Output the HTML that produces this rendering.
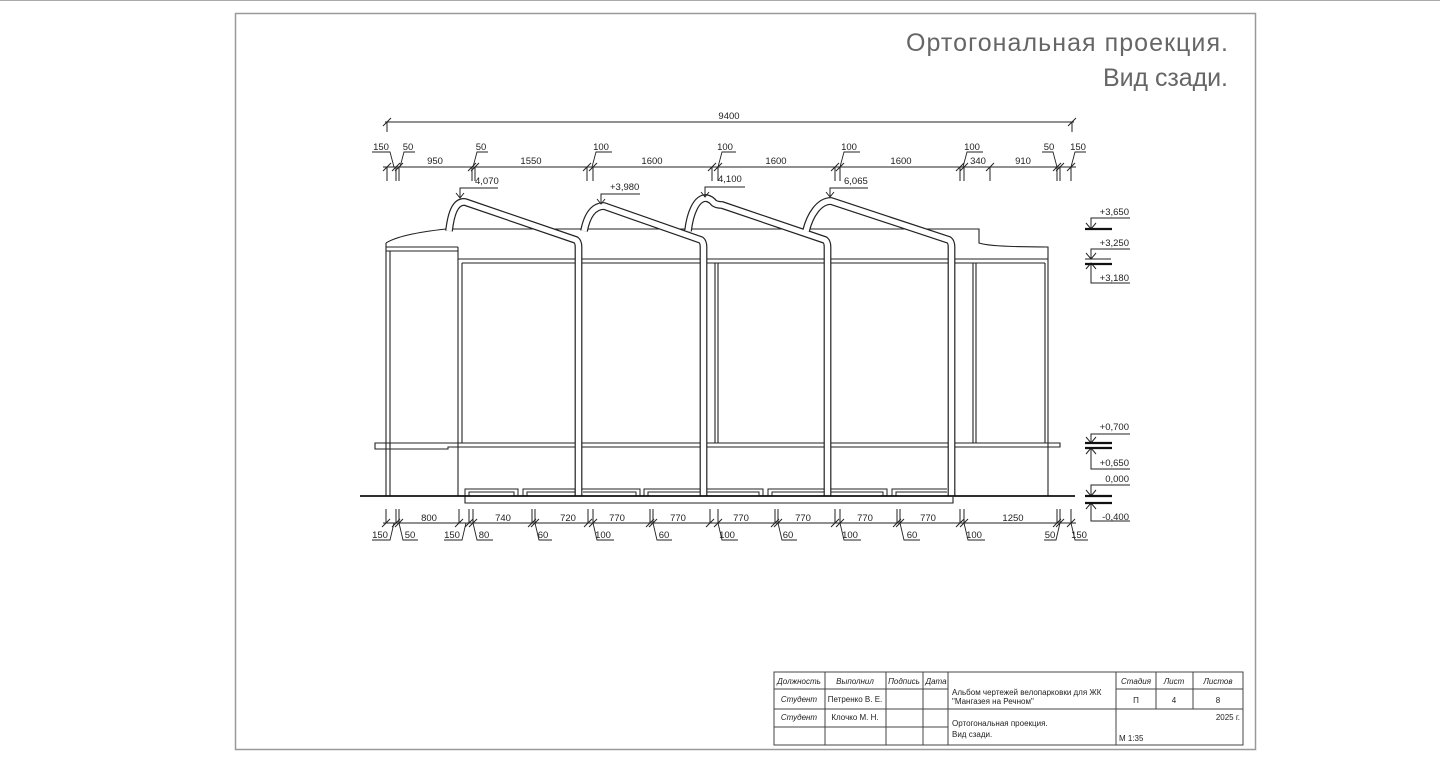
<!DOCTYPE html>
<html><head><meta charset="utf-8"><style>
html,body{margin:0;padding:0;background:#fff;}
svg{display:block;}
text{font-family:"Liberation Sans","DejaVu Sans",sans-serif;fill:#222;}
.d{font-size:9.5px;}
.t{font-size:8px;font-style:italic;}
</style></head><body>
<svg width="1440" height="758" viewBox="0 0 1440 758" xmlns="http://www.w3.org/2000/svg">
<line x1="0" y1="0.5" x2="1440" y2="0.5" stroke="#aaa" stroke-width="1"/>
<rect x="235.5" y="13.5" width="1020" height="736" fill="none" stroke="#999" stroke-width="1.5"/>

<text x="1228" y="51" text-anchor="end" font-size="25" textLength="322" lengthAdjust="spacing" style="fill:#666">Ортогональная проекция.</text>
<text x="1228" y="86" text-anchor="end" font-size="25" textLength="125" lengthAdjust="spacing" style="fill:#666">Вид сзади.</text>

<g stroke="#222" stroke-width="1.1" fill="none">
<path d="M386,243 Q400,234 446,229 L979,229 L979,243 Q990,247 1048,247 L1048,496"/>
<line x1="386" y1="247" x2="458" y2="247"/>
<line x1="386" y1="251" x2="458" y2="251"/>
<line x1="386" y1="243" x2="386" y2="496"/>
<line x1="390" y1="251" x2="390" y2="496"/>
<line x1="458" y1="247" x2="458" y2="496"/>
<line x1="462" y1="263" x2="462" y2="443"/>
<line x1="458" y1="259" x2="1048" y2="259"/>
<line x1="462" y1="263" x2="1045" y2="263"/>
<line x1="1045" y1="263" x2="1045" y2="443"/>
<line x1="715" y1="263" x2="715" y2="443"/><line x1="718" y1="263" x2="718" y2="443"/>
<line x1="973" y1="263" x2="973" y2="443"/><line x1="976" y1="263" x2="976" y2="443"/>
<path d="M375,443 L1060,443 L1060,447 L448,447 L448,449 L375,449 Z"/>
<line x1="390" y1="443" x2="390" y2="447"/>
<path d="M465,496 L465,503 L953,503 L953,496"/>
</g>
<g stroke="#222" stroke-width="1" fill="none">
<path d="M465,496 V489 H518 V496 M469,496 V492 H514 V496"/>
<path d="M523,496 V489 H575 V496 M527,496 V492 H575"/>
<path d="M583,492 H636 V496 M582,489 H640 V496"/>
<path d="M644,496 V489 H700 M648,496 V492 H700"/>
<path d="M707,489 H763 V496 M707,492 H759 V496"/>
<path d="M768,496 V489 H824 M772,496 V492 H824"/>
<path d="M831,489 H887 V496 M831,492 H883 V496"/>
<path d="M892,496 V489 H947 M896,496 V492 H947"/>
</g>
<g fill="none" stroke-linejoin="round">
<g stroke="#222" stroke-width="7.8">
<path d="M449,231 C451,214 455,201 465,202 L576,240 Q578.5,242 578.5,247 L578.5,496"/>
<path d="M584,231 C587,216 593,206 604,206 L701,240 Q703.5,242 703.5,247 L703.5,496"/>
<path d="M688,231 C690,214 696,198 706,198 Q711,199 714,203 Q717,205 722,205 L825,240 Q827.5,242 827.5,247 L827.5,496"/>
<path d="M806,231 C810,215 819,201 831,201 L949,240 Q951.5,242 951.5,247 L951.5,496"/>
</g>
<g stroke="#fff" stroke-width="5.4">
<path d="M449,231 C451,214 455,201 465,202 L576,240 Q578.5,242 578.5,247 L578.5,497"/>
<path d="M584,231 C587,216 593,206 604,206 L701,240 Q703.5,242 703.5,247 L703.5,497"/>
<path d="M688,231 C690,214 696,198 706,198 Q711,199 714,203 Q717,205 722,205 L825,240 Q827.5,242 827.5,247 L827.5,497"/>
<path d="M806,231 C810,215 819,201 831,201 L949,240 Q951.5,242 951.5,247 L951.5,497"/>
</g>
</g>
<line x1="360" y1="496" x2="1075" y2="496" stroke="#111" stroke-width="1.8"/>

<g stroke="#222" stroke-width="1" fill="none">
<line x1="385" y1="122" x2="1074" y2="122"/>
<line x1="387" y1="122" x2="387" y2="132"/><line x1="1072" y1="122" x2="1072" y2="132"/>
<line x1="383" y1="126" x2="391" y2="118"/><line x1="1068" y1="126" x2="1076" y2="118"/>
<line x1="383" y1="167" x2="1076" y2="167"/>
<line x1="383" y1="523" x2="1076" y2="523"/>
</g>
<g id="ticks" stroke="#222" stroke-width="1" fill="none"></g>

<g stroke="#222" stroke-width="1" fill="none">
<path d="M460,198 L460,188 L498,188 M456,193 L460,198 L464,193"/>
<path d="M601,204 L601,194 L640,194 M597,199 L601,204 L605,199"/>
<path d="M705,197 L705,187 L745,187 M701,192 L705,197 L709,192"/>
<path d="M830,197 L830,188 L868,188 M826,192 L830,197 L834,192"/>
<path d="M1130,218 L1091,218 L1091,229 M1086,223 L1091,229 L1096,223"/>
<path d="M1130,249 L1091,249 L1091,259 M1086,253 L1091,259 L1096,253 M1085,259 L1111,259"/>
<path d="M1130,283 L1091,283 L1091,263 M1086,269 L1091,263 L1096,269"/>
<path d="M1130,434 L1091,434 L1091,443 M1086,437 L1091,443 L1096,437"/>
<path d="M1130,469 L1091,469 L1091,448 M1086,454 L1091,448 L1096,454"/>
<path d="M1130,485 L1091,485 L1091,496 M1086,490 L1091,496 L1096,490"/>
<path d="M1130,521 L1091,521 L1091,503 M1086,509 L1091,503 L1096,509"/>
</g>
<g stroke="#111" stroke-width="2.2">
<line x1="1085" y1="229" x2="1112" y2="229"/>
<line x1="1085" y1="264" x2="1112" y2="264"/>
<line x1="1085" y1="443" x2="1112" y2="443"/>
<line x1="1085" y1="448" x2="1112" y2="448"/>
<line x1="1085" y1="496" x2="1112" y2="496"/>
<line x1="1085" y1="503" x2="1112" y2="503"/>
</g>
<g class="d" text-anchor="end">
<text x="1129" y="215">+3,650</text>
<text x="1129" y="246">+3,250</text>
<text x="1129" y="281">+3,180</text>
<text x="1129" y="430">+0,700</text>
<text x="1129" y="466">+0,650</text>
<text x="1129" y="482">0,000</text>
<text x="1129" y="520">-0,400</text>
</g>
<g class="d">
<text x="475" y="184">4,070</text>
<text x="610" y="190">+3,980</text>
<text x="718" y="182">4,100</text>
<text x="844" y="184">6,065</text>
</g>
<g class="d" text-anchor="middle">
<text x="729" y="119">9400</text>
<text x="381" y="150">150</text><text x="408" y="150">50</text>
<text x="435" y="164">950</text><text x="481" y="150">50</text>
<text x="531" y="164">1550</text><text x="601" y="150">100</text>
<text x="652" y="164">1600</text><text x="725" y="150">100</text>
<text x="776" y="164">1600</text><text x="849" y="150">100</text>
<text x="901" y="164">1600</text><text x="972" y="150">100</text>
<text x="978" y="164">340</text><text x="1023" y="164">910</text>
<text x="1049" y="150">50</text><text x="1078" y="150">150</text>
</g>
<g class="d" text-anchor="middle">
<text x="380" y="538">150</text><text x="410" y="538">50</text>
<text x="429" y="521">800</text><text x="452" y="538">150</text>
<text x="484" y="538">80</text><text x="503" y="521">740</text>
<text x="543" y="538">60</text><text x="568" y="521">720</text>
<text x="603" y="538">100</text><text x="617" y="521">770</text>
<text x="664" y="538">60</text><text x="678" y="521">770</text>
<text x="727" y="538">100</text><text x="741" y="521">770</text>
<text x="788" y="538">60</text><text x="803" y="521">770</text>
<text x="850" y="538">100</text><text x="865" y="521">770</text>
<text x="912" y="538">60</text><text x="928" y="521">770</text>
<text x="974" y="538">100</text><text x="1013" y="521">1250</text>
<text x="1050" y="538">50</text><text x="1079" y="538">150</text>
</g>
<g stroke="#222" stroke-width="0.9" fill="none">
<path d="M372,152 H390 L394,167"/><path d="M400,167 L404,152 H415"/>
<path d="M473,167 L477,152 H488"/><path d="M592,167 L596,152 H612"/>
<path d="M718,167 L722,152 H736"/><path d="M840,167 L844,152 H860"/>
<path d="M963,167 L967,152 H983"/><path d="M1057,167 L1053,152 H1042"/>
<path d="M1071,167 L1075,152 H1086"/>
<path d="M372,540 H390 L394,523"/><path d="M399,523 L403,540 H418"/>
<path d="M444,540 H462 L466,523"/><path d="M473,523 L477,540 H493"/>
<path d="M535,523 L539,540 H552"/><path d="M593,523 L597,540 H614"/>
<path d="M653,523 L657,540 H672"/><path d="M718,523 L722,540 H738"/>
<path d="M778,523 L782,540 H797"/><path d="M840,523 L844,540 H861"/>
<path d="M900,523 L904,540 H920"/><path d="M964,523 L968,540 H985"/>
<path d="M1044,540 H1056 L1060,523"/><path d="M1071,523 L1075,540 H1088"/>
</g>

<g stroke="#444" stroke-width="1" fill="none">
<rect x="774" y="672" width="469" height="73"/>
<line x1="774" y1="689" x2="948" y2="689"/>
<line x1="774" y1="709" x2="1243" y2="709"/>
<line x1="774" y1="727" x2="948" y2="727"/>
<line x1="1116" y1="689" x2="1243" y2="689"/>
<line x1="825" y1="672" x2="825" y2="745"/>
<line x1="886" y1="672" x2="886" y2="745"/>
<line x1="923" y1="672" x2="923" y2="745"/>
<line x1="948" y1="672" x2="948" y2="745"/>
<line x1="1116" y1="672" x2="1116" y2="745"/>
<line x1="1156" y1="672" x2="1156" y2="709"/>
<line x1="1193" y1="672" x2="1193" y2="709"/>
</g>
<g class="t" text-anchor="middle">
<text x="799" y="684">Должность</text><text x="855" y="684">Выполнил</text>
<text x="904" y="684">Подпись</text><text x="936" y="684">Дата</text>
<text x="799" y="702">Студент</text><text x="855" y="702" style="font-style:normal">Петренко В. Е.</text>
<text x="799" y="720">Студент</text><text x="855" y="720" style="font-style:normal">Клочко М. Н.</text>
<text x="1136" y="684">Стадия</text><text x="1174" y="684">Лист</text><text x="1218" y="684">Листов</text>
<text x="1136" y="703" style="font-style:normal">П</text><text x="1174" y="703" style="font-style:normal">4</text><text x="1218" y="703" style="font-style:normal">8</text>
</g>
<g class="t" style="font-style:normal">
<text x="952" y="695">Альбом чертежей велопарковки для ЖК</text>
<text x="952" y="704">"Мангазея на Речном"</text>
<text x="952" y="726">Ортогональная проекция.</text>
<text x="952" y="737">Вид сзади.</text>
<text x="1240" y="720" text-anchor="end">2025 г.</text>
<text x="1119" y="741">М 1:35</text>
</g>
<script>
(function(){
var g=document.getElementById('ticks'),ns='http://www.w3.org/2000/svg';
function L(a,b,c,d){var l=document.createElementNS(ns,'line');l.setAttribute('x1',a);l.setAttribute('y1',b);l.setAttribute('x2',c);l.setAttribute('y2',d);g.appendChild(l);}
var top=[387,396,399,472,475,587,593,712,718,835,840,960,964,990,1057,1060,1071];
top.forEach(function(x){L(x,167,x,181);L(x-4,171,x+4,163);});
var bot=[386,396,399,459,469,473,532,535,588,593,650,653,710,718,775,778,835,840,897,900,960,964,1057,1060,1071];
bot.forEach(function(x){L(x,509,x,523);L(x-4,527,x+4,519);});
})();
</script>
</svg>
</body></html>
